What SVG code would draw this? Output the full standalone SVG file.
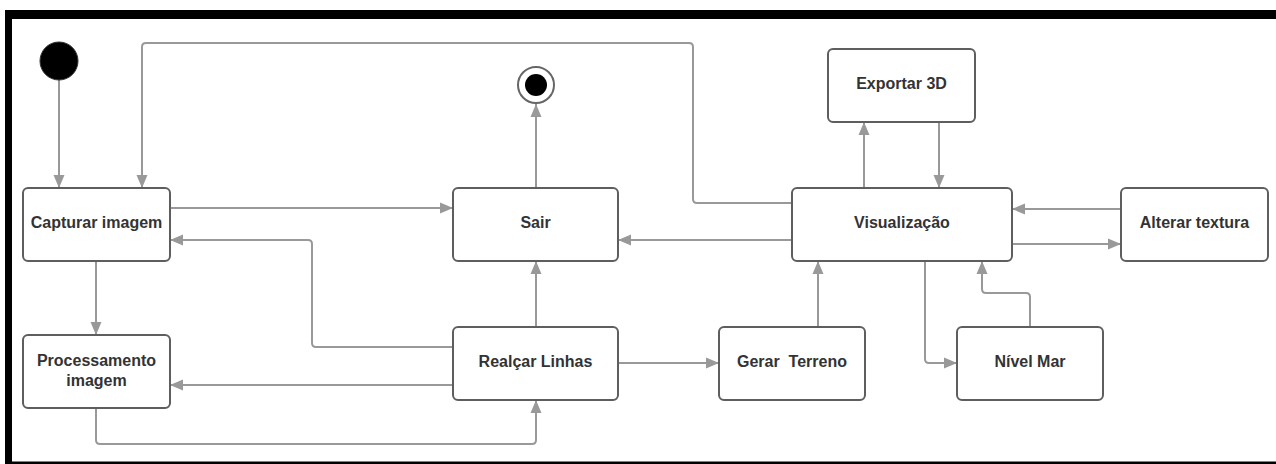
<svg xmlns="http://www.w3.org/2000/svg" width="1276" height="464" viewBox="0 0 1276 464">
<defs>
<style>
.node rect{fill:#fff;stroke:#5e5e5e;stroke-width:2}
.node text{font-family:"Liberation Sans",Arial,sans-serif;font-weight:bold;font-size:16px;fill:#333;text-anchor:middle;dominant-baseline:central}
#connectors path{fill:none;stroke:#999;stroke-width:2;marker-end:url(#arr)}
</style>
<marker id="arr" markerUnits="userSpaceOnUse" markerWidth="14" markerHeight="12" refX="13" refY="6" orient="auto">
<path d="M0,0.5 L13,6 L0,11.5 z" fill="#999"/>
</marker>
</defs>
<rect x="0" y="0" width="1276" height="464" fill="#fff"/>
<g id="frame" fill="#000">
<rect x="5" y="10" width="1271" height="9"/>
<rect x="5" y="10" width="7" height="454"/>
<rect x="5" y="461.5" width="1271" height="2.5"/>
</g>
<g id="connectors">
<path d="M59,80 V188"/>
<path d="M792,203 H697 Q693,203 693,199 V47 Q693,43 689,43 H146 Q142,43 142,47 V188"/>
<path d="M96,261 V335"/>
<path d="M170,208 H453"/>
<path d="M792,240 H618"/>
<path d="M453,347 H316 Q312,347 312,343 V244 Q312,240 308,240 H170"/>
<path d="M536,188 V104"/>
<path d="M536,327 V261"/>
<path d="M453,385 H170"/>
<path d="M96,408 V440 Q96,444 100,444 H532 Q536,444 536,440 V400"/>
<path d="M618,363 H719"/>
<path d="M818,327 V261"/>
<path d="M864,188 V122"/>
<path d="M939,122 V188"/>
<path d="M1121,209 H1012"/>
<path d="M1012,244 H1121"/>
<path d="M925,261 V359 Q925,363 929,363 H957"/>
<path d="M1030,327 V297 Q1030,293 1026,293 H986 Q982,293 982,289 V261"/>
</g>
<g id="start"><circle cx="59" cy="61" r="19" fill="#000" stroke="#333" stroke-width="1"/></g>
<g id="end"><circle cx="536" cy="85" r="18" fill="#fff" stroke="#666" stroke-width="2"/><circle cx="536" cy="85" r="11" fill="#000"/></g>
<g id="capturar" class="node"><rect x="23" y="188" width="147" height="73" rx="5"/><text x="96.5" y="222">Capturar imagem</text></g>
<g id="processamento" class="node"><rect x="23" y="335" width="147" height="73" rx="5"/><text x="96.5" y="360">Processamento</text><text x="96.5" y="380">imagem</text></g>
<g id="sair" class="node"><rect x="453" y="188" width="165" height="73" rx="5"/><text x="535.5" y="222">Sair</text></g>
<g id="realcar" class="node"><rect x="453" y="327" width="165" height="73" rx="5"/><text x="535.5" y="361">Realçar Linhas</text></g>
<g id="gerar" class="node"><rect x="719" y="327" width="146" height="73" rx="5"/><text x="792" y="361" xml:space="preserve">Gerar  Terreno</text></g>
<g id="visualizacao" class="node"><rect x="792" y="188" width="220" height="73" rx="5"/><text x="902" y="222">Visualização</text></g>
<g id="exportar" class="node"><rect x="828" y="49" width="147" height="73" rx="5"/><text x="901.5" y="83">Exportar 3D</text></g>
<g id="alterar" class="node"><rect x="1121" y="188" width="147" height="73" rx="5"/><text x="1194.5" y="222">Alterar textura</text></g>
<g id="nivel" class="node"><rect x="957" y="327" width="146" height="73" rx="5"/><text x="1030" y="361">Nível Mar</text></g>
</svg>
